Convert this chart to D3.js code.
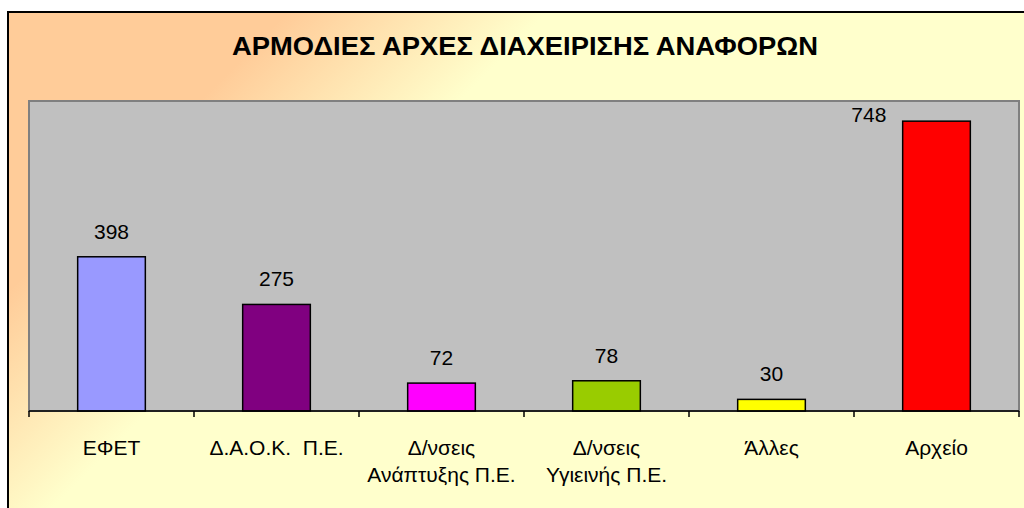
<!DOCTYPE html>
<html>
<head>
<meta charset="utf-8">
<script src="https://cdn.jsdelivr.net/npm/d3@7"></script>
<style>
  body { margin: 0; background: #fff; }
  text { font-family: "Liberation Sans", Arial, sans-serif; }
</style>
</head>
<body>
<svg id="chart"></svg>
<script>
// Data
const categories = ["ΕΦΕΤ", "Δ.Α.Ο.Κ.\u00A0 Π.Ε.", "Δ/νσεις\nΑνάπτυξης Π.Ε.", "Δ/νσεις\nΥγιεινής Π.Ε.", "Άλλες", "Αρχείο"];
const values = [398, 275, 72, 78, 30, 748];
const barColors = ["#9999FF", "#800080", "#FF00FF", "#99CC00", "#FFFF00", "#FF0000"];
const title = "ΑΡΜΟΔΙΕΣ ΑΡΧΕΣ ΔΙΑΧΕΙΡΙΣΗΣ ΑΝΑΦΟΡΩΝ";

const width = 1024;
const height = 508;
const plot = { left: 29, right: 1019, top: 101, bottom: 411 };

const svg = d3.select("#chart")
  .attr("width", width)
  .attr("height", height);

// Background gradient (peach -> light yellow, diagonal)
const grad = svg.append("defs").append("linearGradient")
  .attr("id", "bg")
  .attr("gradientUnits", "userSpaceOnUse")
  .attr("x1", 0).attr("y1", 0)
  .attr("x2", 500).attr("y2", 500);
grad.append("stop").attr("offset", 0.3).attr("stop-color", "#FFCC99");
grad.append("stop").attr("offset", 0.56).attr("stop-color", "#FFFFCC");

// Chart area (extends past the window on the right and bottom)
svg.append("rect")
  .attr("x", 8)
  .attr("y", 12)
  .attr("width", 1034)
  .attr("height", 520)
  .attr("fill", "url(#bg)")
  .attr("stroke", "#000")
  .attr("stroke-width", 2);

// Title
svg.append("text")
  .attr("x", 525)
  .attr("y", 55)
  .attr("text-anchor", "middle")
  .attr("font-size", 26)
  .attr("font-weight", "bold")
  .attr("textLength", 586)
  .attr("lengthAdjust", "spacingAndGlyphs")
  .text(title);

// Scales
const x = d3.scaleBand()
  .domain(categories)
  .range([plot.left, plot.right])
  .padding(0);

const y = d3.scaleLinear()
  .domain([0, 800])
  .range([plot.bottom, plot.top]);

const barWidth = x.bandwidth() * 0.41;

// Plot area
svg.append("rect")
  .attr("x", plot.left)
  .attr("y", y(800))
  .attr("width", plot.right - plot.left)
  .attr("height", y(0) - y(800))
  .attr("fill", "#C0C0C0")
  .attr("stroke", "#808080")
  .attr("stroke-width", 2);

// Bars
svg.selectAll("rect.bar")
  .data(values)
  .enter()
  .append("rect")
  .attr("class", "bar")
  .attr("x", (d, i) => x(categories[i]) + (x.bandwidth() - barWidth) / 2)
  .attr("y", d => y(d))
  .attr("width", barWidth)
  .attr("height", d => y(0) - y(d))
  .attr("fill", (d, i) => barColors[i])
  .attr("stroke", "#000")
  .attr("stroke-width", 1.5);

// Value labels (moved beside the bar when there is no room above it)
svg.selectAll("text.value")
  .data(values)
  .enter()
  .append("text")
  .attr("class", "value")
  .attr("font-size", 21)
  .attr("text-anchor", "middle")
  .attr("x", (d, i) => {
    const cx = x(categories[i]) + x.bandwidth() / 2;
    return y(d) - 18 - 15 < plot.top ? cx - barWidth : cx;
  })
  .attr("y", d => (y(d) - 18 - 15 < plot.top ? y(d) + 1 : y(d) - 18))
  .text(d => d);

// X axis line + ticks at category boundaries
svg.append("line")
  .attr("x1", plot.left)
  .attr("x2", plot.right)
  .attr("y1", y(0))
  .attr("y2", y(0))
  .attr("stroke", "#000")
  .attr("stroke-width", 1.5);

const tickPos = categories.map(c => x(c)).concat([plot.right]);
svg.selectAll("line.tick")
  .data(tickPos)
  .enter()
  .append("line")
  .attr("class", "tick")
  .attr("x1", d => d)
  .attr("x2", d => d)
  .attr("y1", y(0))
  .attr("y2", y(0) + 6)
  .attr("stroke", "#000")
  .attr("stroke-width", 1.5);

// Category labels
const catLabels = svg.selectAll("text.cat")
  .data(categories)
  .enter()
  .append("text")
  .attr("class", "cat")
  .attr("font-size", 21)
  .attr("text-anchor", "middle")
  .attr("y", 455);

catLabels.each(function(c) {
  const t = d3.select(this);
  c.split("\n").forEach((line, j) => {
    t.append("tspan")
      .attr("x", x(c) + x.bandwidth() / 2)
      .attr("y", 455 + j * 27)
      .text(line);
  });
});
</script>
</body>
</html>
